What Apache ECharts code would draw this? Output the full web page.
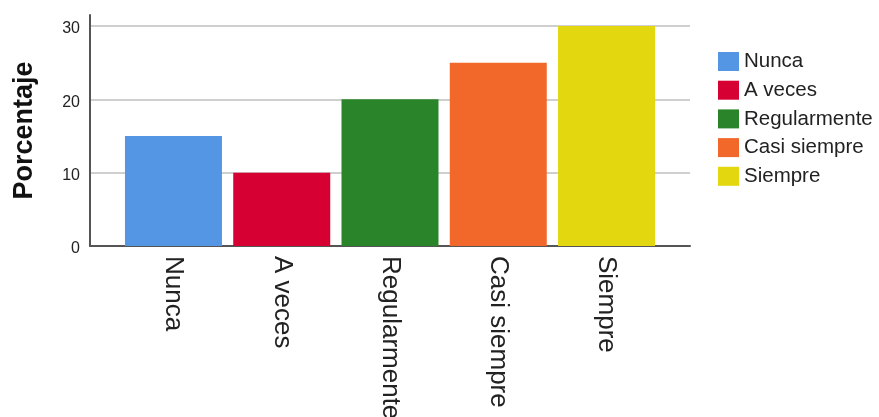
<!DOCTYPE html>
<html>
<head>
<meta charset="utf-8">
<style>
  html, body { margin: 0; padding: 0; background: #fff; }
  #chart { width: 879px; height: 417px; }
</style>
<script src="https://cdn.jsdelivr.net/npm/echarts@6/dist/echarts.min.js"></script>
</head>
<body>
<div id="chart"></div>
<script>
// Response categories and their percentages
const categories = ['Nunca', 'A veces', 'Regularmente', 'Casi siempre', 'Siempre'];
const percentages = [15, 10, 20, 25, 30];
const barColors = ['#5596E4', '#D60032', '#2A852A', '#F2682B', '#E3D70F'];
const yTicks = [0, 10, 20, 30];

const chart = echarts.init(document.getElementById('chart'), null, { renderer: 'canvas' });

// One series per category so each gets its own legend entry; a shared stack keeps them in one slot
const series = categories.map((name, i) => ({
  name: name,
  type: 'bar',
  stack: 'responses',
  barWidth: 97,
  itemStyle: { color: barColors[i] },
  data: [[i, percentages[i]]]
}));

chart.setOption({
  animation: false,
  backgroundColor: '#ffffff',
  textStyle: { fontFamily: '"Liberation Sans", Arial, sans-serif' },
  grid: { left: 90, right: 189, top: 15, bottom: 171, containLabel: false, outerBoundsMode: 'none' },
  legend: {
    orient: 'vertical',
    left: 718,
    top: 51,
    padding: 0,
    icon: 'rect',
    itemWidth: 21,
    itemHeight: 19,
    itemGap: 7.7,
    textStyle: { fontSize: 20.5, color: '#222' },
    data: categories
  },
  xAxis: {
    type: 'value',
    min: -0.771,
    max: 4.771,
    axisLine: { show: true, onZero: false, lineStyle: { color: '#555', width: 2 } },
    axisTick: { show: false },
    splitLine: { show: false },
    axisLabel: {
      customValues: categories.map((c, i) => i),
      formatter: v => categories[Math.round(v)],
      rotate: -90,
      margin: 10,
      fontSize: 26,
      color: '#222'
    }
  },
  yAxis: {
    type: 'value',
    min: 0,
    max: 31.5,
    name: 'Porcentaje',
    nameLocation: 'middle',
    nameRotate: 90,
    nameGap: 52,
    nameTextStyle: { fontSize: 27, fontWeight: 'bold', color: '#111' },
    axisLine: { show: true, onZero: false, lineStyle: { color: '#555', width: 2 } },
    axisTick: { show: false, customValues: yTicks },
    axisLabel: { customValues: yTicks, fontSize: 16, color: '#222', margin: 10, verticalAlign: 'top', lineHeight: 6 },
    splitLine: { show: true, lineStyle: { color: '#cfcfcf', width: 2 } }
  },
  series: series
});
</script>
</body>
</html>
